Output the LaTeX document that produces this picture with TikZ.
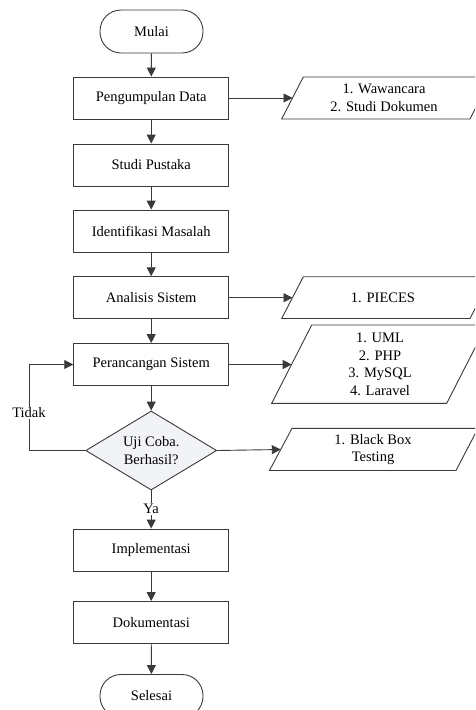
\documentclass[tikz,border=0pt]{standalone}
\usepackage{fontspec}
\setmainfont{Liberation Serif}
\usetikzlibrary{shapes.geometric,arrows.meta}
\definecolor{linec}{HTML}{3A3A3A}
\definecolor{dfill}{HTML}{F1F3F7}
\begin{document}
\begin{tikzpicture}[x=1pt,y=-1pt,
  every node/.style={font=\fontsize{14.5}{17.5}\selectfont, text=black},
  stepbox/.style={draw=linec, line width=0.9pt, minimum width=155pt, minimum height=42pt, inner sep=0pt, align=center},
  term/.style={draw=linec, line width=0.9pt, minimum width=103pt, minimum height=43pt, rounded corners=21pt, inner sep=0pt},
  decis/.style={draw=linec, fill=dfill, line width=0.9pt, diamond, aspect=1.66, minimum width=131pt, minimum height=79pt, inner sep=0pt, align=center},
  para/.style={draw=linec, line width=0.9pt},
  ptext/.style={align=center, inner sep=0pt},
  conn/.style={draw=linec, line width=0.9pt, -{Triangle[length=9pt,width=9pt]}},
  lbl/.style={fill=white, inner sep=1pt}
]
\clip (0,0) rectangle (475,710);

% main column
\node[term] (mulai) at (151.5,31.5) {Mulai};
\node[stepbox] (pd) at (151.2,98) {Pengumpulan Data};
\node[stepbox] (sp) at (151.2,165) {Studi Pustaka};
\node[stepbox] (im) at (151.2,231) {Identifikasi Masalah};
\node[stepbox] (as) at (151.2,297.7) {Analisis Sistem};
\node[stepbox] (ps) at (151.2,364.5) {Perancangan Sistem};
\node[decis] (uji) at (151.2,450.5) {Uji Coba.\\Berhasil?};
\node[stepbox] (impl) at (151.2,550) {Implementasi};
\node[stepbox] (dok) at (151.2,622.5) {Dokumentasi};
\node[term] (selesai) at (151.5,696) {Selesai};

% parallelograms
\draw[para] (281.7,119) -- (303.3,77) -- (491.6,77) -- (470,119) -- cycle;
\coordinate (p1in) at (292.5,98);
\node[ptext] (p1) at (384,98) {1. Wawancara\\2. Studi Dokumen};

\draw[para] (281.7,318.5) -- (303.3,276.7) -- (491.6,276.7) -- (470,318.5) -- cycle;
\coordinate (p2in) at (292.5,297.7);
\node[ptext] (p2) at (383,297.7) {1. PIECES};

\draw[para] (271.7,403.3) -- (311.7,325) -- (486.7,325) -- (446.7,403.3) -- cycle;
\coordinate (p3in) at (291.7,364.5);
\node[ptext] (p3) at (380,364.5) {1. UML\\2. PHP\\3. MySQL\\4. Laravel};

\draw[para] (269.5,470.5) -- (292,428.3) -- (478,428.3) -- (456,470.5) -- cycle;
\coordinate (p4in) at (280.8,449.5);
\node[ptext] (p4) at (373,449.5) {1. Black Box\\Testing};

% connectors
\draw[conn] (mulai) -- (pd);
\draw[conn] (pd) -- (sp);
\draw[conn] (sp) -- (im);
\draw[conn] (im) -- (as);
\draw[conn] (as) -- (ps);
\draw[conn] (ps) -- (uji);
\draw[conn] (uji) -- node[lbl, pos=0.48] (ya) {Ya} (impl);
\draw[conn] (impl) -- (dok);
\draw[conn] (dok) -- (selesai);

\draw[conn] (pd.east) -- (p1in);
\draw[conn] (as.east) -- (p2in);
\draw[conn] (ps.east) -- (p3in);
\draw[conn] (uji.east) -- (p4in);

\coordinate (loop) at (29,450.5);
\draw[conn] (uji.west) -- (loop) |- (ps.west);
\node[lbl] (tidak) at (29,413) {Tidak};
\end{tikzpicture}
\end{document}
